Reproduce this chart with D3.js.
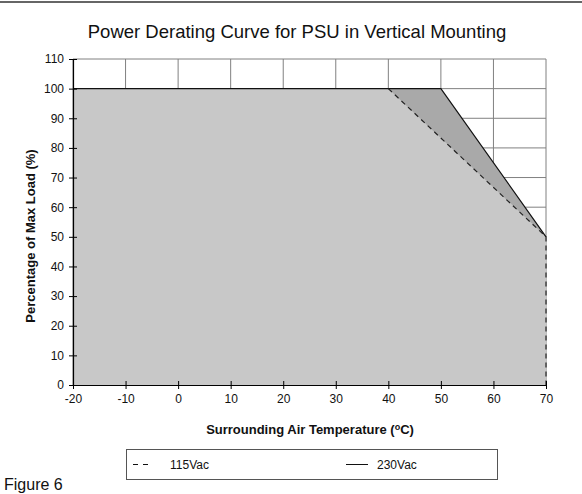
<!DOCTYPE html>
<html><head><meta charset="utf-8">
<script src="https://cdn.jsdelivr.net/npm/d3@7"></script>
<style>body{margin:0;background:#fff;font-family:"Liberation Sans",Arial,sans-serif;}</style>
</head><body>
<svg id="c" width="582" height="494"></svg>
<script>
const xTicks = [-20,-10,0,10,20,30,40,50,60,70];
const yTicks = [0,10,20,30,40,50,60,70,80,90,100,110];
const temp115 = [-20, 40, 70, 70];
const load115 = [100, 100, 50, 0];
const temp230 = [-20, 50, 70];
const load230 = [100, 100, 50];
const seriesNames = ["115Vac", "230Vac"];

const FONT = "Liberation Sans, Arial, sans-serif";
const svg = d3.select("#c").attr("font-family", FONT);
const x = d3.scaleLinear().domain([-20,70]).range([73,546]);
const y = d3.scaleLinear().domain([0,110]).range([385,59]);

svg.append("line").attr("x1",0).attr("x2",582).attr("y1",2).attr("y2",2).attr("stroke","#333").attr("stroke-width",1.5);

svg.append("text").attr("x",297).attr("y",38).attr("text-anchor","middle")
  .attr("font-size",18.5).attr("fill","#111").text("Power Derating Curve for PSU in Vertical Mounting");

// grid
const g = svg.append("g");
xTicks.forEach(t=>g.append("line").attr("x1",x(t)).attr("x2",x(t)).attr("y1",y(0)).attr("y2",y(110)).attr("stroke","#808080").attr("stroke-width",1));
yTicks.forEach(t=>g.append("line").attr("x1",x(-20)).attr("x2",x(70)).attr("y1",y(t)).attr("y2",y(t)).attr("stroke","#808080").attr("stroke-width",1));

// areas
const pts230 = temp230.map((t,i)=>[t,load230[i]]).concat([[70,0],[-20,0]]);
const pts115 = [[-20,0]].concat(temp115.map((t,i)=>[t,load115[i]]));
const line = d3.line().x(d=>x(d[0])).y(d=>y(d[1]));
svg.append("path").attr("d",line(pts230)+"Z").attr("fill","#a9a9a9");
svg.append("path").attr("d",line(pts115)+"Z").attr("fill","#c8c8c8");

// lines
svg.append("path").attr("d",line(temp230.map((t,i)=>[t,load230[i]]))).attr("fill","none").attr("stroke","#111").attr("stroke-width",1.2);
svg.append("path").attr("d",line(temp115.map((t,i)=>[t,load115[i]]).slice(1))).attr("fill","none").attr("stroke","#222").attr("stroke-width",1.2).attr("stroke-dasharray","5,4");

// axes
const xa = svg.append("g").attr("transform",`translate(0,${y(0)})`)
  .call(d3.axisBottom(x).tickValues(xTicks).tickFormat(d=>String(d)).tickSizeInner(4).tickSizeOuter(0).tickPadding(5));
xa.selectAll(".tick line").attr("y1",-4).attr("y2",4);
const ya = svg.append("g").attr("transform",`translate(${x(-20)},0)`)
  .call(d3.axisLeft(y).tickValues(yTicks).tickFormat(d=>String(d)).tickSizeInner(4).tickSizeOuter(0).tickPadding(5));
ya.selectAll(".tick line").attr("x1",-4).attr("x2",4);
[xa,ya].forEach(a=>{
  a.attr("font-family",FONT).attr("font-size",12);
  a.select(".domain").attr("stroke","#000").attr("stroke-width",1.2);
  a.selectAll(".tick line").attr("stroke","#000");
  a.selectAll("text").attr("fill","#111");
});

svg.append("text").attr("x",310).attr("y",434).attr("text-anchor","middle").attr("font-size",13).attr("font-weight","bold").attr("fill","#111")
  .html('Surrounding Air Temperature (<tspan font-size="9" dy="-4">o</tspan><tspan dy="4">C)</tspan>');
svg.append("text").attr("transform","translate(35,236) rotate(-90)").attr("text-anchor","middle").attr("font-size",13).attr("font-weight","bold").attr("fill","#111")
  .text("Percentage of Max Load (%)");

// legend
svg.append("rect").attr("x",126.5).attr("y",449.5).attr("width",371).attr("height",30).attr("fill","#fff").attr("stroke","#555");
svg.append("line").attr("x1",133).attr("x2",149).attr("y1",464.5).attr("y2",464.5).attr("stroke","#111").attr("stroke-dasharray","5,5");
svg.append("text").attr("x",170).attr("y",469).attr("font-size",12).attr("fill","#111").text(seriesNames[0]);
svg.append("line").attr("x1",346).attr("x2",368).attr("y1",464.5).attr("y2",464.5).attr("stroke","#111");
svg.append("text").attr("x",377).attr("y",469).attr("font-size",12).attr("fill","#111").text(seriesNames[1]);

svg.append("text").attr("x",4).attr("y",490).attr("font-size",16).attr("fill","#111").text("Figure 6");
</script>
</body></html>
